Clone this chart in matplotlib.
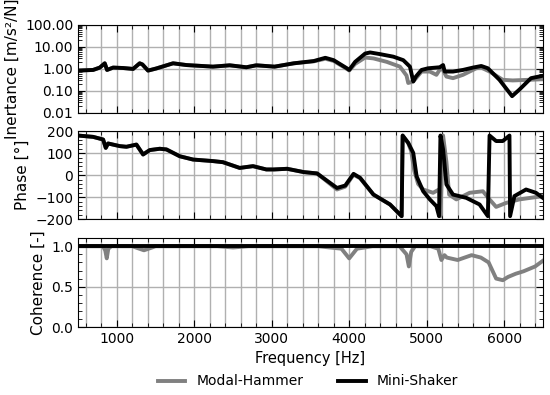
import numpy as np
import matplotlib.pyplot as plt
from matplotlib.ticker import MultipleLocator, FormatStrFormatter, LogLocator

# Inertance [m/s^2/N]
f_in_shk = [500, 694, 780, 844, 874, 952, 1081, 1210, 1295, 1330, 1403, 1510, 1726, 1898, 2241,
            2457, 2672, 2800, 3037, 3285, 3542, 3692, 3799, 3970, 4000, 4077, 4206, 4270, 4398,
            4570, 4698, 4784, 4827, 4861, 4934, 5019, 5169, 5212, 5233, 5340, 5469, 5598, 5705,
            5790, 5940, 6103, 6197, 6347, 6500]
in_shk = [0.84, 0.9, 1.15, 1.8, 0.9, 1.15, 1.1, 1.0, 1.8, 1.6, 0.84, 1.05, 1.8, 1.5, 1.27,
          1.46, 1.19, 1.46, 1.27, 1.8, 2.28, 3.2, 2.5, 1.07, 0.9, 2.1, 5.0, 5.6, 4.7,
          3.6, 2.5, 1.27, 0.27, 0.45, 0.9, 1.07, 1.19, 1.5, 0.76, 0.76, 0.9, 1.15, 1.36,
          1.07, 0.32, 0.058, 0.115, 0.38, 0.49]
f_in_ham = [500, 694, 780, 844, 874, 952, 1081, 1210, 1295, 1330, 1403, 1510, 1726, 1898, 2241,
            2457, 2672, 2800, 3037, 3285, 3542, 3692, 3799, 3970, 4000, 4077, 4206, 4313, 4484,
            4655, 4740, 4762, 4827, 4934, 5041, 5126, 5190, 5255, 5340, 5469, 5640, 5705, 5812,
            5983, 6111, 6500]
in_ham = [0.84, 0.9, 1.15, 1.8, 0.9, 1.15, 1.1, 1.0, 1.8, 1.6, 0.84, 1.05, 1.8, 1.5, 1.27,
          1.46, 1.19, 1.46, 1.27, 1.8, 2.2, 2.9, 2.3, 1.0, 0.85, 1.7, 3.3, 3.0, 2.1,
          1.27, 0.5, 0.23, 0.27, 0.76, 0.76, 0.54, 1.2, 0.45, 0.38, 0.54, 1.07, 1.15, 0.76,
          0.32, 0.3, 0.34]

# Phase [deg]
f_ph_shk = [500, 694, 823, 857, 887, 1038, 1124, 1253, 1339, 1425, 1554, 1640, 1812, 1984, 2241,
            2370, 2586, 2758, 2930, 3028, 3199, 3413, 3585, 3842, 3949, 4056, 4141, 4313, 4527,
            4677, 4690, 4762, 4827, 4870, 4955, 5041, 5126, 5160, 5178, 5212, 5255, 5340, 5512,
            5683, 5790, 5812, 5897, 5983, 6069, 6077, 6133, 6283, 6411, 6500]
ph_shk = [180, 174, 162, 124, 144, 132, 129, 139, 94, 114, 120, 117, 86, 71, 64,
          59, 33, 41, 26, 26, 29, 14, 8, -58, -47, 6, -12, -88, -133,
          -186, 180, 147, 101, -5, -73, -110, -141, -186, 180, 117, -42, -88, -103,
          -133, -186, 180, 155, 155, 180, -186, -95, -65, -80, -103]
f_ph_ham = [500, 694, 823, 857, 887, 1038, 1124, 1253, 1339, 1425, 1554, 1640, 1812, 1984, 2241,
            2370, 2586, 2758, 2930, 3028, 3199, 3413, 3585, 3842, 3949, 4056, 4141, 4313, 4527,
            4677, 4690, 4762, 4800, 4840, 4890, 4955, 5083, 5160, 5178, 5212, 5255, 5290, 5383,
            5555, 5726, 5812, 5897, 6026, 6197, 6500]
ph_ham = [180, 174, 162, 124, 144, 132, 129, 139, 94, 114, 120, 117, 86, 71, 64,
          59, 33, 41, 26, 26, 29, 14, 8, -65, -52, 2, -14, -88, -133,
          -186, 180, 145, 110, 20, -40, -65, -80, -65, -186, 180, 60, -88, -110,
          -80, -73, -110, -144, -126, -110, -95]

# Coherence [-]
f_coh_ham = [500, 820, 850, 870, 890, 930, 1200, 1350, 1500, 2300, 2500, 2700, 3600, 3900, 4000,
             4100, 4300, 4650, 4740, 4770, 4800, 4850, 5050, 5150, 5190, 5230, 5260, 5400, 5580,
             5700, 5800, 5897, 5983, 6050, 6150, 6250, 6400, 6500]
coh_ham = [1.0, 1.0, 0.95, 0.85, 0.97, 1.0, 1.0, 0.95, 1.0, 1.0, 0.985, 1.0, 1.0, 0.97, 0.85,
           0.97, 1.0, 1.0, 0.9, 0.75, 0.93, 1.0, 1.0, 0.97, 0.83, 0.89, 0.86, 0.83, 0.89,
           0.86, 0.8, 0.6, 0.58, 0.62, 0.66, 0.69, 0.75, 0.82]
f_coh_shk = [500, 6500]
coh_shk = [1.0, 1.0]

grey = '#808080'
lw = 2.8

fig = plt.figure(figsize=(5.5, 3.95), dpi=100)
ax1 = fig.add_axes([0.142, 0.714, 0.845, 0.223])
ax2 = fig.add_axes([0.142, 0.445, 0.845, 0.223])
ax3 = fig.add_axes([0.142, 0.172, 0.845, 0.225])

ax1.plot(f_in_ham, in_ham, color=grey, lw=lw, label='Modal-Hammer')
ax1.plot(f_in_shk, in_shk, color='black', lw=lw, label='Mini-Shaker')
ax1.set_yscale('log')
ax1.set_ylim(0.01, 100)
ax1.yaxis.set_major_locator(LogLocator(base=10, numticks=10))
ax1.yaxis.set_minor_locator(LogLocator(base=10, subs=np.arange(2, 10), numticks=10))
ax1.yaxis.set_major_formatter(FormatStrFormatter('%.2f'))
ax1.set_ylabel('Inertance [m/s²/N]', fontsize=11)

ax2.plot(f_ph_ham, ph_ham, color=grey, lw=lw)
ax2.plot(f_ph_shk, ph_shk, color='black', lw=lw)
ax2.set_ylim(-200, 200)
ax2.yaxis.set_major_locator(MultipleLocator(100))
ax2.yaxis.set_minor_locator(MultipleLocator(20))
ax2.set_ylabel('Phase [°]', fontsize=11)

ax3.plot(f_coh_ham, coh_ham, color=grey, lw=lw)
ax3.plot(f_coh_shk, coh_shk, color='black', lw=lw)
ax3.set_ylim(0, 1.1)
ax3.yaxis.set_major_locator(MultipleLocator(0.5))
ax3.yaxis.set_minor_locator(MultipleLocator(0.1))
ax3.set_ylabel('Coherence [-]', fontsize=11)
ax3.set_xlabel('Frequency [Hz]', fontsize=10.5)

for ax in (ax1, ax2, ax3):
    ax.set_xlim(500, 6500)
    ax.xaxis.set_major_locator(MultipleLocator(1000))
    ax.xaxis.set_minor_locator(MultipleLocator(200))
    ax.tick_params(which='both', direction='in', top=True, right=True, labelsize=10)
    ax.tick_params(which='major', length=5)
    ax.tick_params(which='minor', length=3)
    ax.grid(True, which='major', color='#b0b0b0', lw=1)
    ax.grid(True, which='minor', axis='x', color='#b0b0b0', lw=1)
    ax.set_axisbelow(True)
for ax in (ax1, ax2):
    ax.tick_params(labelbottom=False)

fig.align_ylabels([ax1, ax2, ax3])
fig.legend(loc='lower center', ncol=2, frameon=False, bbox_to_anchor=(0.56, -0.015),
           fontsize=10, columnspacing=2.5)
fig.savefig('out.png', dpi=100)
